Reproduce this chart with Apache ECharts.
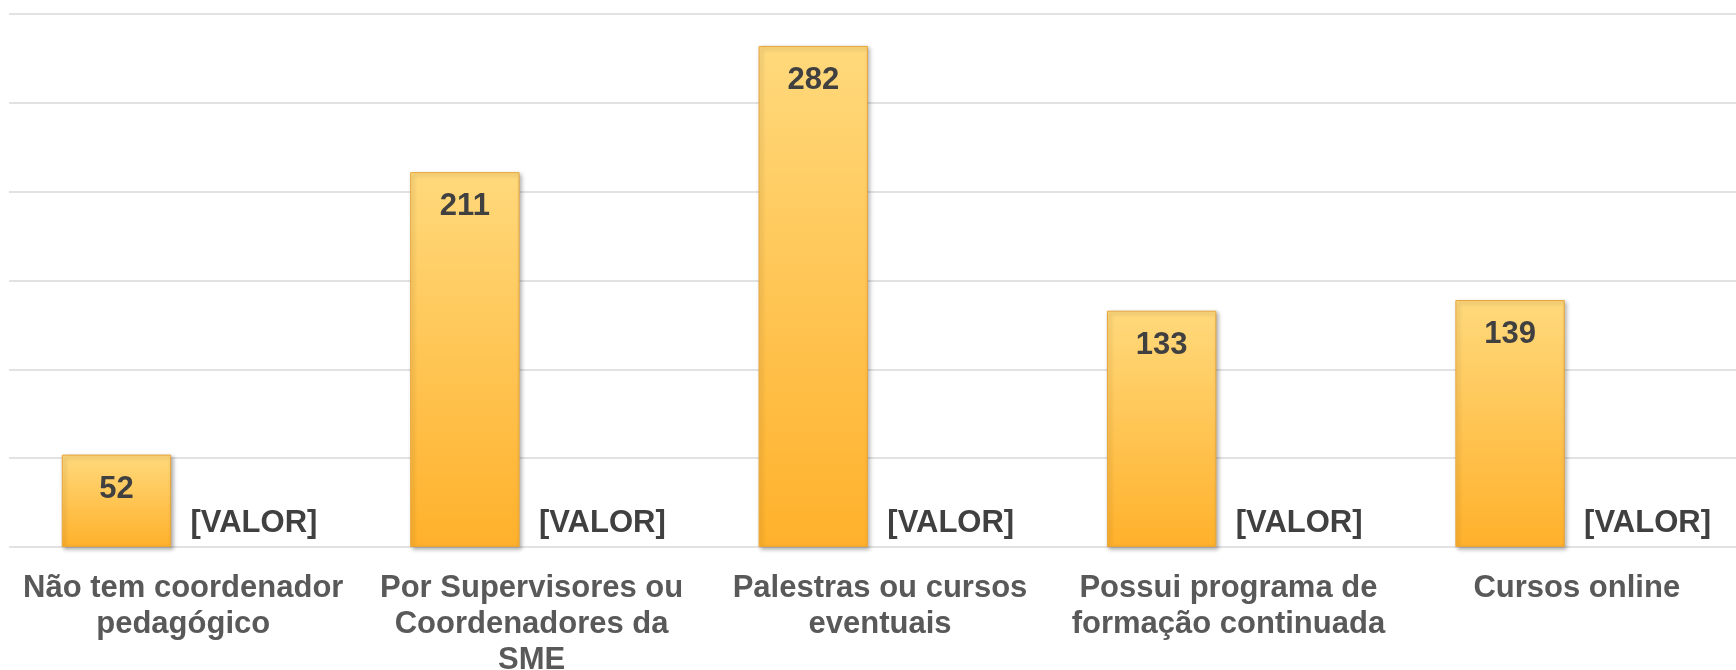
<!DOCTYPE html>
<html>
<head>
<meta charset="utf-8">
<script src="https://cdn.jsdelivr.net/npm/echarts@6/dist/echarts.min.js"></script>
<style>
html,body{margin:0;padding:0;background:#fff;}
#chart{width:1736px;height:670px;}
</style>
</head>
<body>
<div id="chart"></div>
<script>
const categories = [
  "Não tem coordenador\npedagógico",
  "Por Supervisores ou\nCoordenadores da\nSME",
  "Palestras ou cursos\neventuais",
  "Possui programa de\nformação continuada",
  "Cursos online"
];
const seriesMain = [52, 211, 282, 133, 139];
const seriesPlaceholder = [0, 0, 0, 0, 0];
const placeholderLabel = "[VALOR]";
const yTicks = [0, 50, 100, 150, 200, 250, 300];

const chart = echarts.init(document.getElementById('chart'), null, {renderer: 'canvas'});
const barGradient = new echarts.graphic.LinearGradient(0, 0, 0, 1, [
  {offset: 0, color: '#FFD97C'},
  {offset: 1, color: '#FFB12B'}
]);
chart.setOption({
  animation: false,
  backgroundColor: '#ffffff',
  grid: {left: 9, right: -15, top: 14, bottom: 123, containLabel: false, outerBoundsMode: 'none'},
  xAxis: {
    type: 'category',
    data: categories,
    axisLine: {show: false},
    axisTick: {show: false},
    axisLabel: {
      interval: 0,
      color: '#595959',
      fontFamily: 'Liberation Sans, Arial, sans-serif',
      fontWeight: 'bold',
      fontSize: 31,
      lineHeight: 36,
      margin: 23
    }
  },
  yAxis: {
    type: 'value',
    min: yTicks[0],
    max: yTicks[yTicks.length - 1],
    interval: 50,
    axisLabel: {show: false},
    axisLine: {show: false},
    axisTick: {show: false},
    splitLine: {lineStyle: {color: '#D9D9D9', width: 1.5}}
  },
  series: [
    {
      type: 'bar',
      data: seriesMain,
      barWidth: '31.4%',
      barGap: '22%',
      itemStyle: {
        color: barGradient,
        borderColor: '#E8A63A',
        borderWidth: 1,
        shadowColor: 'rgba(0,0,0,0.3)',
        shadowBlur: 4,
        shadowOffsetX: 2,
        shadowOffsetY: 2
      },
      label: {
        show: true,
        position: 'insideTop',
        distance: 19,
        color: '#404040',
        fontFamily: 'Liberation Sans, Arial, sans-serif',
        fontWeight: 'bold',
        fontSize: 31
      }
    },
    {
      type: 'bar',
      data: seriesPlaceholder,
      barWidth: '31.4%',
      itemStyle: {color: '#FFC000'},
      label: {
        show: true,
        position: 'top',
        distance: 8,
        offset: [4, 0],
        formatter: placeholderLabel,
        color: '#404040',
        fontFamily: 'Liberation Sans, Arial, sans-serif',
        fontWeight: 'bold',
        fontSize: 31
      }
    }
  ]
});
</script>
</body>
</html>
